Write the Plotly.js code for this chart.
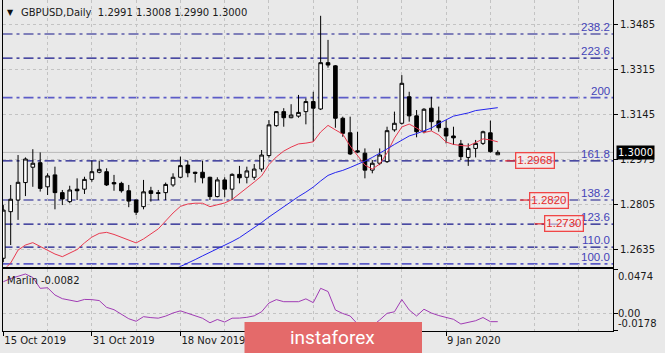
<!DOCTYPE html>
<html><head><meta charset="utf-8">
<script src="https://cdn.plot.ly/plotly-3.0.1.min.js"></script>
<style>html,body{margin:0;padding:0;background:#e9e9e9;overflow:hidden}#chart{width:665px;height:353px}</style>
</head><body><div id="chart"></div>
<script>
// ---------- DATA ----------
const dates = ["2019-10-15","2019-10-16","2019-10-17","2019-10-18","2019-10-21","2019-10-22","2019-10-23","2019-10-24","2019-10-25","2019-10-28","2019-10-29","2019-10-30","2019-10-31","2019-11-01","2019-11-04","2019-11-05","2019-11-06","2019-11-07","2019-11-08","2019-11-11","2019-11-12","2019-11-13","2019-11-14","2019-11-15","2019-11-18","2019-11-19","2019-11-20","2019-11-21","2019-11-22","2019-11-25","2019-11-26","2019-11-27","2019-11-28","2019-11-29","2019-12-02","2019-12-03","2019-12-04","2019-12-05","2019-12-06","2019-12-09","2019-12-10","2019-12-11","2019-12-12","2019-12-13","2019-12-16","2019-12-17","2019-12-18","2019-12-19","2019-12-20","2019-12-23","2019-12-24","2019-12-26","2019-12-27","2019-12-30","2019-12-31","2020-01-02","2020-01-03","2020-01-06","2020-01-07","2020-01-08","2020-01-09","2020-01-10","2020-01-13","2020-01-14","2020-01-15","2020-01-16","2020-01-17","2020-01-20"];
const open  = [1.2600,1.2776,1.2820,1.2886,1.2944,1.2961,1.2870,1.2915,1.2848,1.2814,1.2861,1.2861,1.2898,1.2925,1.2927,1.2886,1.2883,1.2855,1.2820,1.2795,1.2855,1.2848,1.2848,1.2877,1.2906,1.2952,1.2925,1.2925,1.2906,1.2833,1.2896,1.2861,1.2917,1.2906,1.2906,1.2937,1.2988,1.3101,1.3154,1.3131,1.3137,1.3154,1.3192,1.3164,1.3339,1.3327,1.3129,1.3074,1.3006,1.2997,1.2933,1.2959,1.2965,1.3085,1.3110,1.3210,1.3138,1.3078,1.3167,1.3119,1.3091,1.3062,1.3032,1.2981,1.3015,1.3034,1.3074,1.2991];
const high  = [1.2801,1.2877,1.2990,1.2981,1.3012,1.3000,1.2921,1.2946,1.2858,1.2874,1.2902,1.2908,1.2969,1.2969,1.2940,1.2915,1.2889,1.2877,1.2822,1.2896,1.2870,1.2858,1.2886,1.2921,1.2984,1.2969,1.2927,1.2969,1.2908,1.2906,1.2906,1.2921,1.2949,1.2946,1.2956,1.3009,1.3122,1.3156,1.3167,1.3182,1.3217,1.3204,1.3229,1.3516,1.3425,1.3330,1.3135,1.3135,1.3078,1.3015,1.2971,1.3015,1.3097,1.3154,1.3292,1.3229,1.3160,1.3167,1.3210,1.3173,1.3122,1.3097,1.3047,1.3034,1.3047,1.3082,1.3120,1.3008];
const low   = [1.2585,1.2650,1.2745,1.2835,1.2870,1.2852,1.2839,1.2785,1.2801,1.2808,1.2820,1.2843,1.2889,1.2921,1.2873,1.2855,1.2848,1.2793,1.2763,1.2785,1.2814,1.2820,1.2820,1.2870,1.2902,1.2906,1.2886,1.2883,1.2820,1.2830,1.2830,1.2820,1.2883,1.2883,1.2896,1.2927,1.2980,1.3097,1.3097,1.3129,1.3131,1.3106,1.3040,1.3160,1.3320,1.3093,1.3059,1.2990,1.2997,1.2902,1.2921,1.2952,1.2960,1.3078,1.3105,1.3116,1.3057,1.3072,1.3082,1.3078,1.3034,1.3028,1.2971,1.2949,1.2981,1.3028,1.2999,1.2990];
const close = [1.2782,1.2823,1.2887,1.2975,1.2959,1.2864,1.2911,1.2848,1.2824,1.2858,1.2855,1.2898,1.2927,1.2936,1.2877,1.2881,1.2855,1.2816,1.2774,1.2851,1.2845,1.2845,1.2879,1.2906,1.2950,1.2923,1.2921,1.2904,1.2833,1.2896,1.2861,1.2917,1.2904,1.2930,1.2937,1.2990,1.3104,1.3154,1.3131,1.3141,1.3151,1.3192,1.3167,1.3339,1.3330,1.3129,1.3072,1.2994,1.3002,1.2933,1.2959,1.2990,1.3082,1.3110,1.3261,1.3138,1.3078,1.3163,1.3116,1.3093,1.3062,1.3055,1.2984,1.3015,1.3034,1.3078,1.3003,1.3000];
const maFast = [1.2555,1.2582,1.2631,1.2650,1.2659,1.2644,1.2631,1.2616,1.2606,1.2620,1.2633,1.2658,1.2680,1.2694,1.2698,1.2690,1.2680,1.2669,1.2658,1.2673,1.2692,1.2711,1.2741,1.2771,1.2796,1.2805,1.2808,1.2808,1.2795,1.2801,1.2809,1.2822,1.2843,1.2865,1.2888,1.2911,1.2954,1.2983,1.3005,1.3020,1.3032,1.3035,1.3040,1.3077,1.3102,1.3085,1.3069,1.3024,1.2986,1.2952,1.2937,1.2956,1.2998,1.3054,1.3096,1.3107,1.3092,1.3075,1.3081,1.3066,1.3039,1.3030,1.3026,1.3024,1.3037,1.3051,1.3047,1.3040];
const maSlow = [null,null,null,null,null,null,null,null,null,null,null,null,null,null,null,null,null,null,null,null,null,null,null,1.2556,1.2568,1.2582,1.2595,1.2609,1.2622,1.2635,1.2648,1.2663,1.2678,1.2696,1.2714,1.2735,1.2756,1.2775,1.2797,1.2816,1.2833,1.2850,1.2869,1.2892,1.2913,1.2924,1.2932,1.2943,1.2954,1.2967,1.2981,1.2996,1.3013,1.3030,1.3047,1.3062,1.3071,1.3083,1.3092,1.3109,1.3122,1.3137,1.3143,1.3149,1.3158,1.3162,1.3166,1.3169];
const marlin = [0.0342,0.0376,0.0400,0.0424,0.0387,0.0272,0.0278,0.0201,0.0162,0.0143,0.0131,0.0154,0.0152,0.0142,0.0070,0.0045,0.0001,-0.0051,-0.0078,-0.0029,-0.0039,-0.0045,-0.0023,0.0010,0.0033,0.0007,-0.0017,-0.0046,-0.0094,-0.0059,-0.0086,-0.0045,-0.0044,-0.0036,-0.0020,0.0023,0.0116,0.0152,0.0130,0.0130,0.0130,0.0160,0.0120,0.0272,0.0238,0.0042,0.0005,-0.0022,-0.0107,-0.0149,-0.0128,-0.0064,0.0006,0.0023,0.0153,0.0042,-0.0022,0.0050,0.0010,-0.0017,-0.0041,-0.0057,-0.0107,-0.0089,-0.0072,-0.0038,-0.0082,-0.0082];
const fibLabels = ["100.0","110.0","123.6","138.2","161.8","200","223.6","238.2"];
const fibPrices = [1.2579,1.2642,1.2729,1.2820,1.2968,1.3207,1.3356,1.3447];
const targetPrices = [1.2968,1.2820,1.2730];
const priceTicks = [1.2635,1.2805,1.2975,1.3145,1.3315,1.3485];
const marlinTicks = [0.0474,0.00,-0.0178];
const marlinTickText = ["0.0474","0.00","-0.0178"];
const dateTickIdx = [0,12,24,60];
const dateTickText = ["15 Oct 2019","31 Oct 2019","18 Nov 2019","9 Jan 2020"];
const symbol = "GBPUSD,Daily";
const indicatorName = "Marlin";
const logoText = "instaforex";

// ---------- GEOMETRY (px) ----------
const W = 665, H = 353;
const plotL = 2.5, plotR = 613;
const upTop = 0, upBot = 266.7, loTop = 269.3, loBot = 330.7;
const pitch = 7.38, firstX = 3.3;
const xr = [(plotL - firstX) / pitch, (plotR - firstX) / pitch];
const px2x = v => v / W, py2y = v => (H - v) / H;
const xdom = [px2x(plotL), px2x(plotR)];
const idx = dates.map((d, i) => i);
const gridIdx = []; for (let g = 0; g <= 80; g += 6) gridIdx.push(g);
const last = close.length - 1;
const f4 = v => v.toFixed(4);

const gridStyle = {showgrid: true, gridcolor: '#c3c3c3', griddash: '3px,3px', gridwidth: 1};
const lineStyle = {showline: true, mirror: true, linecolor: '#000', linewidth: 1, zeroline: false, fixedrange: true};

const traces = [
  {type: 'candlestick', x: idx, open: open, high: high, low: low, close: close,
   xaxis: 'x', yaxis: 'y', whiskerwidth: 0, hoverinfo: 'none',
   increasing: {line: {color: '#000', width: 1}, fillcolor: '#ffffff'},
   decreasing: {line: {color: '#000', width: 1}, fillcolor: '#000000'}},
  {type: 'scatter', mode: 'lines', x: idx, y: maFast, xaxis: 'x', yaxis: 'y',
   line: {color: '#e8394f', width: 1}, hoverinfo: 'none'},
  {type: 'scatter', mode: 'lines', x: idx, y: maSlow, xaxis: 'x', yaxis: 'y',
   line: {color: '#2424ee', width: 1}, hoverinfo: 'none'},
  {type: 'scatter', mode: 'lines', x: idx, y: marlin, xaxis: 'x2', yaxis: 'y2',
   line: {color: '#a03cb4', width: 1}, hoverinfo: 'none'}
];

const shapes = [];
const annotations = [];
const fibFont = {family: 'Liberation Sans, Arial', size: 11.5, color: '#4444b8'};
fibPrices.forEach((p, i) => {
  const strong = (fibLabels[i] === '200' || fibLabels[i] === '100.0');
  shapes.push({type: 'line', xref: 'paper', yref: 'y', x0: xdom[0], x1: xdom[1], y0: p, y1: p,
    layer: 'below', line: {color: strong ? '#5c5cc8' : '#16168a', width: strong ? 1.6 : 1.1, dash: '10px,4px,3px,4px'}});
  annotations.push({xref: 'paper', yref: 'y', x: px2x(611.5), y: p, xanchor: 'right', yanchor: 'bottom',
    text: fibLabels[i], showarrow: false, font: fibFont, yshift: -1});
});
// current price line
shapes.push({type: 'line', xref: 'paper', yref: 'y', x0: xdom[0], x1: xdom[1], y0: close[last], y1: close[last],
  layer: 'below', line: {color: '#b8b8b8', width: 1}});
// target boxes
const tgtStart = [68.0, 70.0, 72.0];
const tgtBox = [69.3, 71.2, 73.3];
targetPrices.forEach((p, i) => {
  shapes.push({type: 'line', xref: 'x', yref: 'y', x0: tgtStart[i], x1: tgtBox[i], y0: p, y1: p,
    line: {color: '#ee2b2b', width: 1.2}});
  annotations.push({xref: 'x', yref: 'y', x: tgtBox[i], y: p, xanchor: 'left', yanchor: 'middle',
    text: f4(p), showarrow: false, font: {family: 'Liberation Sans, Arial', size: 11.5, color: '#e62a2a'},
    bordercolor: '#f04646', borderwidth: 1.3, borderpad: 1, bgcolor: 'rgba(250,235,235,0.6)'});
});
// current price tag
annotations.push({xref: 'paper', yref: 'y', x: px2x(616), y: close[last], xanchor: 'left', yanchor: 'middle',
  text: f4(close[last]), showarrow: false, bgcolor: '#000', borderpad: 1,
  font: {family: 'DejaVu Sans', size: 10, color: '#ffffff'}});
// title
annotations.push({xref: 'paper', yref: 'paper', x: px2x(10), y: py2y(12), xanchor: 'center', yanchor: 'middle',
  text: '▼', showarrow: false, font: {family: 'DejaVu Sans', size: 8, color: '#111'}});
annotations.push({xref: 'paper', yref: 'paper', x: px2x(19), y: py2y(12), xanchor: 'left', yanchor: 'middle',
  text: symbol + '  ' + [open[last], high[last], low[last], close[last]].map(f4).join(' '),
  showarrow: false, font: {family: 'DejaVu Sans', size: 10, color: '#1a1a1a'}});
// indicator label
annotations.push({xref: 'paper', yref: 'paper', x: px2x(5), y: py2y(280), xanchor: 'left', yanchor: 'middle',
  text: indicatorName + ' ' + f4(marlin[last]), showarrow: false, font: {family: 'DejaVu Sans', size: 10, color: '#1a1a1a'}});
// indicator scale labels
const mAnch = ['top', 'middle', 'bottom'];
marlinTicks.forEach((v, i) => {
  annotations.push({xref: 'paper', yref: 'y2', x: px2x(616), y: v, xanchor: 'left', yanchor: mAnch[i],
    text: marlinTickText[i], showarrow: false, font: {family: 'DejaVu Sans', size: 10, color: '#1a1a1a'}});
});
// logo
shapes.push({type: 'rect', xref: 'paper', yref: 'paper', x0: px2x(244.5), x1: px2x(422), y0: 0, y1: py2y(322),
  fillcolor: '#e46a6a', line: {width: 0}, layer: 'above'});
annotations.push({xref: 'paper', yref: 'paper', x: px2x(332), y: py2y(337), xanchor: 'center', yanchor: 'middle',
  text: logoText, showarrow: false, font: {family: 'Roboto', size: 19, color: '#ffffff'}});

const layout = {
  width: W, height: H, margin: {l: 0, r: 0, t: 0, b: 0},
  paper_bgcolor: '#e9e9e9', plot_bgcolor: '#e9e9e9', showlegend: false,
  font: {family: 'DejaVu Sans', size: 10, color: '#1a1a1a'},
  xaxis: Object.assign({domain: xdom, range: xr, anchor: 'y', tickmode: 'array', tickvals: gridIdx,
    showticklabels: false, ticks: '', rangeslider: {visible: false}}, gridStyle, lineStyle),
  yaxis: Object.assign({domain: [py2y(upBot), py2y(upTop)], range: [1.35757 - 0.00037778 * upBot, 1.35757 - 0.00037778 * upTop],
    side: 'right', anchor: 'x', tickmode: 'array', tickvals: priceTicks, ticktext: priceTicks.map(f4),
    ticks: 'outside', ticklen: 4, tickcolor: '#000', tickfont: {family: 'DejaVu Sans', size: 10, color: '#1a1a1a'}}, gridStyle, lineStyle),
  xaxis2: Object.assign({domain: xdom, range: xr, anchor: 'y2', tickmode: 'array', tickvals: dateTickIdx, ticktext: dateTickText,
    ticks: 'outside', ticklen: 4, tickcolor: '#000', ticklabelposition: 'outside right',
    tickfont: {family: 'DejaVu Sans', size: 10, color: '#1a1a1a'},
    minor: {tickmode: 'linear', tick0: 0, dtick: 6, showgrid: true, gridcolor: '#c3c3c3', griddash: '3px,3px', ticks: ''}}, gridStyle, lineStyle),
  yaxis2: Object.assign({domain: [py2y(loBot), py2y(loTop)], range: [marlinTicks[2], marlinTicks[0]],
    side: 'right', anchor: 'x2', tickmode: 'array', tickvals: marlinTicks, showticklabels: false,
    ticks: 'outside', ticklen: 4, tickcolor: '#000'}, gridStyle, lineStyle),
  shapes: shapes,
  annotations: annotations
};

Plotly.newPlot('chart', traces, layout, {staticPlot: true, displayModeBar: false});
</script>
</body></html>
